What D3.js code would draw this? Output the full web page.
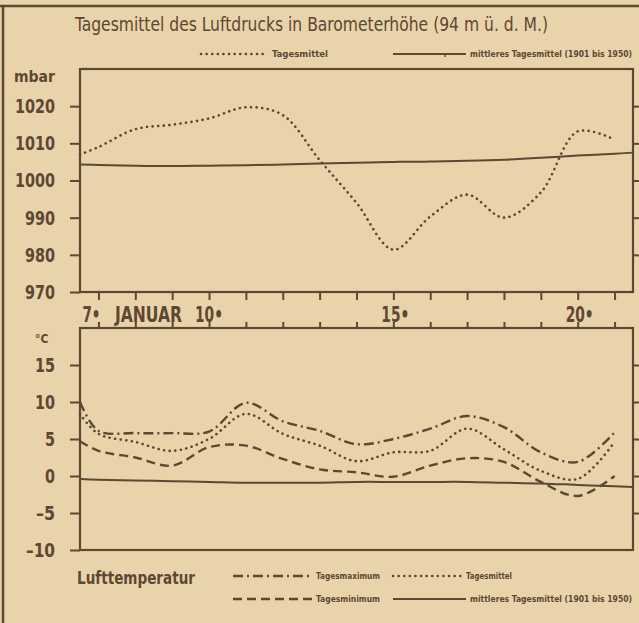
<!DOCTYPE html>
<html>
<head>
<meta charset="utf-8">
<script src="https://d3js.org/d3.v7.min.js"></script>
<style>
    body { margin: 0; background: #e8d3ab; }
    svg { display: block; }
    text { fill: #5e4733; font-family: "Liberation Sans Narrow", "DejaVu Sans Condensed", "Liberation Sans", sans-serif; }
    .tick line { stroke: #5e4733; stroke-width: 2; }
    .tick text { font-size: 20px; font-weight: bold; }
    .small { font-size: 8px; font-weight: bold; }
</style>
</head>
<body>
<svg width="639" height="623"></svg>
<script>
// days (6.5 = left edge of the plot)
const days = [6.5, 7, 8, 9, 10, 11, 12, 13, 14, 15, 16, 17, 18, 19, 20, 21];
const dayLabels = [[7, "7•"], [10, "10•"], [15, "15•"], [20, "20•"]];

// air pressure, mbar
const pressMean = [1007, 1009, 1013.8, 1015, 1016.7, 1019.7, 1017.6, 1005.5, 994, 981.4, 990.3, 996.2, 990, 996.8, 1013.2, 1011];
const pressDays = [6.5, 7, 8, 9, 10, 11, 12, 13, 14, 15, 16, 17, 18, 19, 20, 21, 21.5];
const pressNormal = [1004.3, 1004.2, 1004.0, 1003.9, 1004.0, 1004.1, 1004.3, 1004.6, 1004.8, 1005.0, 1005.1, 1005.3, 1005.6, 1006.1, 1006.7, 1007.2, 1007.5];
const pressTicks = [970, 980, 990, 1000, 1010, 1020];

// air temperature, °C
const tempMax = [10, 6.1, 5.8, 5.8, 6.0, 9.9, 7.4, 6.1, 4.3, 5.0, 6.4, 8.1, 6.6, 3.2, 1.9, 5.9];
const tempMean = [8.4, 5.7, 4.6, 3.4, 5.0, 8.4, 5.7, 4.1, 2.0, 3.2, 3.4, 6.4, 3.6, 0.7, -0.4, 4.6];
const tempMin = [4.7, 3.4, 2.5, 1.4, 3.9, 4.1, 2.3, 0.9, 0.5, -0.1, 1.4, 2.4, 1.9, -0.8, -2.7, 0];
const tempNormal = [-0.4, -0.5, -0.6, -0.7, -0.8, -0.9, -0.9, -0.9, -0.8, -0.8, -0.8, -0.8, -0.9, -1.0, -1.2, -1.4, -1.5];
const tempTicks = [-10, -5, 0, 5, 10, 15];

const ink = "#5e4733";
const svg = d3.select("svg");

const x = d3.scaleLinear().domain([6.5, 21.5]).range([80, 633]);
const yP = d3.scaleLinear().domain([970, 1030]).range([292, 69]);
const yT = d3.scaleLinear().domain([-10, 20]).range([550, 328]);

// outer frame of the clipping
svg.append("line").attr("x1", 0).attr("x2", 639).attr("y1", 6).attr("y2", 6)
    .attr("stroke", ink).attr("stroke-width", 2.5);
svg.append("line").attr("x1", 3).attr("x2", 3).attr("y1", 6).attr("y2", 623)
    .attr("stroke", ink).attr("stroke-width", 2.5);

// title
svg.append("text").attr("x", 75).attr("y", 31)
    .attr("textLength", 473).attr("lengthAdjust", "spacingAndGlyphs")
    .style("font-size", "19px")
    .text("Tagesmittel des Luftdrucks in Barometerhöhe (94 m ü. d. M.)");

// styles of the lines
const styles = {
    dotted: { dash: "0.1 5.5", width: 2.6, cap: "round" },
    solid: { dash: null, width: 2, cap: "butt" },
    dashdot: { dash: "10 4 2 4", width: 2.4, cap: "butt" },
    dashed: { dash: "9 5", width: 2.4, cap: "butt" }
};

function legendItem(x1, x2, y, style, label, labelEnd) {
    const s = styles[style];
    svg.append("line").attr("x1", x1).attr("x2", x2).attr("y1", y).attr("y2", y)
        .attr("stroke", ink).attr("stroke-width", s.width)
        .attr("stroke-dasharray", s.dash).attr("stroke-linecap", s.cap);
    svg.append("text").attr("class", "small").attr("x", x2 + 4).attr("y", y + 3)
        .attr("textLength", labelEnd - x2 - 4).attr("lengthAdjust", "spacingAndGlyphs")
        .text(label);
}

legendItem(201, 268, 54, "dotted", "Tagesmittel", 328);
legendItem(393, 466, 54, "solid", "mittleres Tagesmittel (1901 bis 1950)", 632);
svg.append("line").attr("x1", 445).attr("x2", 445).attr("y1", 54).attr("y2", 57)
    .attr("stroke", ink).attr("stroke-width", 1.5);

// tick label: condensed numbers, minus as en dash
function label(d) { return d < 0 ? "\u2013" + Math.abs(d) : String(d); }
function labelWidth(d) { return String(Math.abs(d)).length * 10 + (d < 0 ? 9 : 0); }

// panel builder
function panel(y, ticks, rightTicks) {
    const g = svg.append("g");
    g.append("g").attr("transform", "translate(80,0)")
        .call(d3.axisLeft(y).tickValues(ticks).tickSizeInner(10).tickSizeOuter(0).tickPadding(15))
        .call(a => a.select(".domain").remove())
        .call(a => a.selectAll(".tick text").attr("fill", ink)
            .attr("textLength", d => labelWidth(d)).attr("lengthAdjust", "spacingAndGlyphs")
            .text(d => label(d)));
    g.append("g").attr("transform", "translate(633,0)")
        .call(d3.axisRight(y).tickValues(rightTicks).tickSize(6).tickFormat(""))
        .call(a => a.select(".domain").remove());
    const [y0, y1] = y.range();
    g.append("rect").attr("x", 80).attr("y", y1).attr("width", 553).attr("height", y0 - y1)
        .attr("fill", "none").attr("stroke", ink).attr("stroke-width", 2.2);
    return g;
}

panel(yP, pressTicks, [980, 990, 1000, 1010, 1020]);
panel(yT, tempTicks, [-5, 0, 5, 10, 15]);

svg.append("text").attr("x", 14).attr("y", 82).style("font-size", "15px").style("font-weight", "bold")
    .attr("textLength", 41).attr("lengthAdjust", "spacingAndGlyphs").text("mbar");
svg.append("text").attr("x", 35).attr("y", 343)
    .style("font-size", "12px").style("font-weight", "bold").text("°C");

// day ticks
const dayTicks = d3.range(7, 22);
svg.append("g").attr("transform", "translate(0,292)")
    .call(d3.axisBottom(x).tickValues(dayTicks).tickSize(8).tickFormat(""))
    .call(a => a.select(".domain").remove());
svg.append("g").attr("transform", "translate(0,329)")
    .call(d3.axisTop(x).tickValues(dayTicks).tickSize(7).tickFormat(""))
    .call(a => a.select(".domain").remove());

svg.selectAll(".daylab").data(dayLabels).enter().append("text")
    .attr("class", "daylab")
    .attr("x", d => x(d[0]) + (d[0] < 10 ? -7 : d[0] < 15 ? 0 : 2)).attr("y", 322)
    .attr("text-anchor", "middle")
    .attr("textLength", d => d[1].length * 10 - 2).attr("lengthAdjust", "spacingAndGlyphs")
    .style("font-size", "21px").style("font-weight", "bold")
    .text(d => d[1]);
svg.append("text").attr("x", 115).attr("y", 322)
    .attr("textLength", 67).attr("lengthAdjust", "spacingAndGlyphs")
    .style("font-size", "21px").style("font-weight", "bold").text("JANUAR");

// lines
function drawLine(xs, ys, y, style) {
    const s = styles[style];
    const line = d3.line().x((d, i) => x(xs[i])).y(d => y(d)).curve(d3.curveCatmullRom.alpha(0.5));
    svg.append("path").datum(ys).attr("d", line)
        .attr("fill", "none").attr("stroke", ink)
        .attr("stroke-width", s.width).attr("stroke-dasharray", s.dash)
        .attr("stroke-linecap", s.cap).attr("stroke-linejoin", "round");
}

drawLine(pressDays, pressNormal, yP, "solid");
drawLine(days, pressMean, yP, "dotted");

drawLine(pressDays, tempNormal, yT, "solid");
drawLine(days, tempMax, yT, "dashdot");
drawLine(days, tempMean, yT, "dotted");
drawLine(days, tempMin, yT, "dashed");

// lower legend
svg.append("text").attr("x", 77).attr("y", 584)
    .attr("textLength", 118).attr("lengthAdjust", "spacingAndGlyphs")
    .style("font-size", "18px").style("font-weight", "bold").text("Lufttemperatur");
legendItem(233, 312, 576, "dashdot", "Tagesmaximum", 380);
legendItem(393, 462, 576, "dotted", "Tagesmittel", 512);
legendItem(233, 312, 599, "dashed", "Tagesminimum", 380);
legendItem(393, 466, 599, "solid", "mittleres Tagesmittel (1901 bis 1950)", 632);
</script>
</body>
</html>
